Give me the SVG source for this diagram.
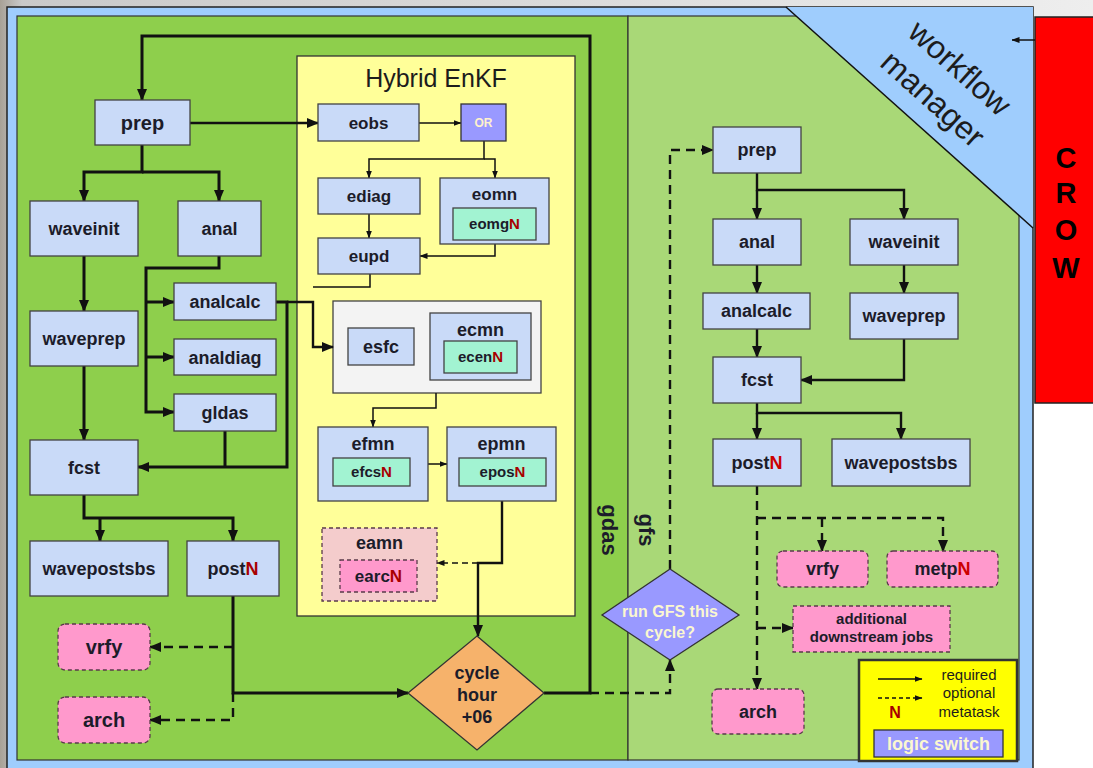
<svg xmlns="http://www.w3.org/2000/svg" width="1093" height="768" viewBox="0 0 1093 768">
<defs>
  <linearGradient id="bgGrad" x1="0" y1="0" x2="1" y2="0">
    <stop offset="0" stop-color="#a8a196"/>
    <stop offset="0.02" stop-color="#c9c9c9"/>
    <stop offset="0.5" stop-color="#dadada"/>
    <stop offset="1" stop-color="#eeeeee"/>
  </linearGradient>
  <marker id="ah" viewBox="0 0 12 10" refX="11" refY="5" markerWidth="12" markerHeight="10" markerUnits="userSpaceOnUse" orient="auto">
    <path d="M0,0 L12,5 L0,10 z" fill="#111"/>
  </marker>
  <marker id="ahs" viewBox="0 0 8 6" refX="7.5" refY="3" markerWidth="8" markerHeight="6" markerUnits="userSpaceOnUse" orient="auto">
    <path d="M0,0 L8,3 L0,6 z" fill="#111"/>
  </marker>
  <style>
    .t{font-family:"Liberation Sans",Arial,sans-serif;font-weight:bold;fill:#1c1c2a;text-anchor:middle}
    .r{font-family:"Liberation Sans",Arial,sans-serif;font-weight:normal;fill:#1c1c1c;text-anchor:middle}
    .n{fill:#a80000}
    .task{fill:#c9daf8;stroke:#434343;stroke-width:1.3}
    .meta{fill:#a2f3d2;stroke:#434343;stroke-width:1.3}
    .opt{fill:#ff99cc;stroke:#5a3a4a;stroke-width:1.3;stroke-dasharray:4 3}
    .optg{fill:#f4cccc;stroke:#5a3a4a;stroke-width:1.3;stroke-dasharray:4 3}
    .sw{fill:#9999ff;stroke:#333;stroke-width:1.3}
    .c3{fill:none;stroke:#111;stroke-width:3}
    .c2{fill:none;stroke:#111;stroke-width:2.4}
    .c1{fill:none;stroke:#111;stroke-width:1.5}
    .d{stroke-dasharray:9 6}
  </style>
</defs>

<!-- backdrop -->
<rect x="0" y="0" width="1093" height="768" fill="url(#bgGrad)"/>
<rect x="1033" y="403" width="60" height="365" fill="#ffffff"/>

<!-- workflow frame -->
<rect x="7" y="7" width="1026" height="775" fill="#9fcdfd" stroke="#222" stroke-width="1.5"/>
<rect x="17" y="16" width="611" height="744" fill="#8ecf4c" stroke="#333" stroke-width="1.2"/>
<rect x="628" y="16" width="391" height="744" fill="#a9d877" stroke="#333" stroke-width="1.2"/>

<!-- workflow manager corner -->
<g id="workflow-manager">
  <polygon points="786,7 1033,7 1033,228" fill="#9fcdfd"/>
  <line x1="786" y1="7" x2="1033" y2="228" stroke="#111" stroke-width="1.5"/>
  <text class="r" font-size="32" fill="#222" transform="translate(960,68) rotate(41.8)" dy="11">workflow</text>
  <text class="r" font-size="32" fill="#222" transform="translate(933,99) rotate(41.8)" dy="11">manager</text>
</g>

<!-- CROW -->
<g id="crow">
  <rect x="1035" y="17" width="70" height="386" fill="#ff0000" stroke="#222" stroke-width="1.5"/>
  <text class="t" font-size="29" fill="#000" x="1066" y="168" style="fill:#000">C</text>
  <text class="t" font-size="29" x="1066" y="203" style="fill:#000">R</text>
  <text class="t" font-size="29" x="1066" y="240" style="fill:#000">O</text>
  <text class="t" font-size="29" x="1066" y="278" style="fill:#000">W</text>
</g>

<!-- panel labels -->
<text class="t" font-size="22" transform="translate(610,530) rotate(90)" dy="8">gdas</text>
<text class="t" font-size="22" transform="translate(647,530) rotate(90)" dy="8">gfs</text>

<!-- Hybrid EnKF container -->
<g id="hybrid-enkf">
  <rect x="297" y="56" width="278" height="560" fill="#ffff99" stroke="#333" stroke-width="1.3"/>
  <text class="r" font-size="25" x="436" y="87">Hybrid EnKF</text>
  <rect x="333" y="301" width="208" height="92" fill="#f3f3f3" stroke="#434343" stroke-width="1.3"/>
</g>

<!-- connectors -->
<g id="connectors">
  <!-- gdas -->
  <path class="c2" d="M190,123 H318" marker-end="url(#ah)"/>
  <path class="c3" d="M142,145 V172 H84 V201" marker-end="url(#ah)"/>
  <path class="c3" d="M142,172 H219 V201" marker-end="url(#ah)"/>
  <path class="c3" d="M84,256 V311" marker-end="url(#ah)"/>
  <path class="c3" d="M84,366 V440" marker-end="url(#ah)"/>
  <path class="c3" d="M219,256 V268 H146 V412 H174" marker-end="url(#ah)"/>
  <path class="c3" d="M146,302 H174" marker-end="url(#ah)"/>
  <path class="c3" d="M146,357 H174" marker-end="url(#ah)"/>
  <path class="c3" d="M276,302 H287 V467 H138" marker-end="url(#ah)"/>
  <path class="c3" d="M225,431 V467"/>
  <path class="c2" d="M287,302 H313 V347 H333" marker-end="url(#ah)"/>
  <path class="c3" d="M84,495 V518 H233 V541" marker-end="url(#ah)"/>
  <path class="c3" d="M100,518 V541" marker-end="url(#ah)"/>
  <path class="c3" d="M233,596 V693 H408" marker-end="url(#ah)"/>
  <path class="c2 d" d="M233,647 H150" marker-end="url(#ah)"/>
  <path class="c2 d" d="M233,693 V720 H150" marker-end="url(#ah)"/>
  <path class="c3" d="M544,693 H590 V36 H142 V100" marker-end="url(#ah)"/>
  <path class="c2 d" d="M590,693 H670 V660" marker-end="url(#ah)"/>
  <path class="c2 d" d="M670,569 V150 H713" marker-end="url(#ah)"/>
  <!-- enkf -->
  <path class="c1" d="M419,123 H461" marker-end="url(#ahs)"/>
  <path class="c1" d="M484,141 V159 H369 V178" marker-end="url(#ahs)"/>
  <path class="c1" d="M484,159 H495 V178" marker-end="url(#ahs)"/>
  <path class="c1" d="M369,214 V238" marker-end="url(#ahs)"/>
  <path class="c1" d="M495,244 V256 H420" marker-end="url(#ahs)"/>
  <path class="c1" d="M370,274 V287 H313"/>
  <path class="c1" d="M436,393 V408 H373 V427" marker-end="url(#ahs)"/>
  <path class="c1" d="M428,464 H447" marker-end="url(#ahs)"/>
  <path class="c2" d="M502,501 V563 H478 V636" marker-end="url(#ah)"/>
  <path class="c1 d" d="M478,563 H437" style="stroke-dasharray:6 4" marker-end="url(#ahs)"/>
  <!-- gfs -->
  <path class="c2" d="M757,173 V190 H904 V219" marker-end="url(#ah)"/>
  <path class="c2" d="M757,190 V219" marker-end="url(#ah)"/>
  <path class="c2" d="M757,265 V293" marker-end="url(#ah)"/>
  <path class="c2" d="M757,329 V357" marker-end="url(#ah)"/>
  <path class="c2" d="M904,265 V293" marker-end="url(#ah)"/>
  <path class="c2" d="M904,339 V380 H801" marker-end="url(#ah)"/>
  <path class="c2" d="M757,403 V413 H901 V439" marker-end="url(#ah)"/>
  <path class="c2" d="M757,413 V439" marker-end="url(#ah)"/>
  <path class="c2 d" d="M757,486 V689" marker-end="url(#ah)"/>
  <path class="c2 d" d="M757,518 H943 V551" marker-end="url(#ah)"/>
  <path class="c2 d" d="M822,518 V551" marker-end="url(#ah)"/>
  <path class="c2 d" d="M757,628 H793" marker-end="url(#ah)"/>
  <!-- crow to manager -->
  <path class="c1" d="M1035,40 H1012" marker-end="url(#ahs)"/>
</g>

<!-- gdas tasks -->
<g id="gdas-prep"><rect class="task" x="95" y="100" width="95" height="45"/><text class="t" font-size="20" x="142.5" y="129.5">prep</text></g>
<g id="gdas-waveinit"><rect class="task" x="30" y="201" width="108" height="55"/><text class="t" font-size="18" x="84" y="235">waveinit</text></g>
<g id="gdas-anal"><rect class="task" x="178" y="201" width="83" height="55"/><text class="t" font-size="18" x="219.5" y="235">anal</text></g>
<g id="gdas-analcalc"><rect class="task" x="174" y="283" width="102" height="37"/><text class="t" font-size="18" x="225" y="308">analcalc</text></g>
<g id="gdas-analdiag"><rect class="task" x="174" y="339" width="102" height="36"/><text class="t" font-size="18" x="225" y="363.5">analdiag</text></g>
<g id="gdas-gldas"><rect class="task" x="174" y="394" width="102" height="37"/><text class="t" font-size="18" x="225" y="419">gldas</text></g>
<g id="gdas-waveprep"><rect class="task" x="30" y="311" width="108" height="55"/><text class="t" font-size="18" x="84" y="345">waveprep</text></g>
<g id="gdas-fcst"><rect class="task" x="30" y="440" width="108" height="55"/><text class="t" font-size="18" x="84" y="474">fcst</text></g>
<g id="gdas-wavepostsbs"><rect class="task" x="30" y="541" width="138" height="55"/><text class="t" font-size="18" x="99" y="575">wavepostsbs</text></g>
<g id="gdas-post"><rect class="task" x="187" y="541" width="92" height="55"/><text class="t" font-size="18" x="233" y="575">post<tspan class="n">N</tspan></text></g>
<g id="gdas-vrfy"><rect class="opt" x="58" y="624" width="92" height="46" rx="7"/><text class="t" font-size="20" x="104" y="654">vrfy</text></g>
<g id="gdas-arch"><rect class="opt" x="58" y="697" width="92" height="46" rx="7"/><text class="t" font-size="20" x="104" y="727">arch</text></g>

<!-- EnKF tasks -->
<g id="eobs"><rect class="task" x="318" y="104" width="101" height="37"/><text class="t" font-size="17" x="368.5" y="128.5">eobs</text></g>
<g id="or-switch"><rect class="sw" x="461" y="104" width="45" height="37"/><text class="t" font-size="12" x="483.5" y="127" style="fill:#fff2cc">OR</text></g>
<g id="ediag"><rect class="task" x="318" y="178" width="102" height="36"/><text class="t" font-size="17" x="369" y="202">ediag</text></g>
<g id="eomn"><rect class="task" x="440" y="178" width="109" height="66"/><text class="t" font-size="17" x="494.5" y="200">eomn</text>
  <rect class="meta" x="453" y="208" width="83" height="32"/><text class="t" font-size="15" x="494.5" y="229">eomg<tspan class="n">N</tspan></text></g>
<g id="eupd"><rect class="task" x="318" y="238" width="102" height="36"/><text class="t" font-size="17" x="369" y="262">eupd</text></g>
<g id="esfc"><rect class="task" x="348" y="328" width="66" height="37"/><text class="t" font-size="18" x="381" y="353">esfc</text></g>
<g id="ecmn"><rect class="task" x="430" y="313" width="101" height="67"/><text class="t" font-size="18" x="480.5" y="336">ecmn</text>
  <rect class="meta" x="444" y="341" width="73" height="32"/><text class="t" font-size="15" x="480.5" y="362">ecen<tspan class="n">N</tspan></text></g>
<g id="efmn"><rect class="task" x="318" y="427" width="110" height="74"/><text class="t" font-size="18" x="373" y="450">efmn</text>
  <rect class="meta" x="333" y="458" width="77" height="28"/><text class="t" font-size="15" x="371.5" y="477">efcs<tspan class="n">N</tspan></text></g>
<g id="epmn"><rect class="task" x="447" y="427" width="109" height="74"/><text class="t" font-size="18" x="501.5" y="450">epmn</text>
  <rect class="meta" x="459" y="458" width="87" height="28"/><text class="t" font-size="15" x="502.5" y="477">epos<tspan class="n">N</tspan></text></g>
<g id="eamn"><rect class="optg" x="322" y="528" width="115" height="73"/><text class="t" font-size="18" x="379.5" y="549">eamn</text>
  <rect class="opt" x="340" y="560" width="77" height="32"/><text class="t" font-size="17" x="378.5" y="582">earc<tspan class="n">N</tspan></text></g>

<!-- cycle hour switch -->
<g id="cycle-hour">
  <polygon points="477,636 544,693 477,750 408,693" fill="#f6b26b" stroke="#333" stroke-width="1.3"/>
  <text class="t" font-size="18" x="477" y="679">cycle</text>
  <text class="t" font-size="18" x="477" y="701">hour</text>
  <text class="t" font-size="18" x="477" y="723">+06</text>
</g>

<!-- run GFS switch -->
<g id="run-gfs">
  <polygon points="670,569 739,615 670,660 602,615" fill="#9999ff" stroke="#333" stroke-width="1.3"/>
  <text class="t" font-size="16" x="670" y="617" style="fill:#fbf7d0">run GFS this</text>
  <text class="t" font-size="16" x="670" y="638" style="fill:#fbf7d0">cycle?</text>
</g>

<!-- gfs tasks -->
<g id="gfs-prep"><rect class="task" x="713" y="127" width="88" height="46"/><text class="t" font-size="18" x="757" y="156">prep</text></g>
<g id="gfs-anal"><rect class="task" x="713" y="219" width="88" height="46"/><text class="t" font-size="18" x="757" y="248">anal</text></g>
<g id="gfs-waveinit"><rect class="task" x="850" y="219" width="108" height="46"/><text class="t" font-size="18" x="904" y="248">waveinit</text></g>
<g id="gfs-analcalc"><rect class="task" x="703" y="293" width="107" height="36"/><text class="t" font-size="18" x="756.5" y="317">analcalc</text></g>
<g id="gfs-waveprep"><rect class="task" x="850" y="293" width="108" height="46"/><text class="t" font-size="18" x="904" y="322">waveprep</text></g>
<g id="gfs-fcst"><rect class="task" x="713" y="357" width="88" height="46"/><text class="t" font-size="18" x="757" y="386">fcst</text></g>
<g id="gfs-post"><rect class="task" x="713" y="439" width="88" height="47"/><text class="t" font-size="18" x="757" y="469">post<tspan class="n" style="fill:#cc0000">N</tspan></text></g>
<g id="gfs-wavepostsbs"><rect class="task" x="832" y="439" width="138" height="47"/><text class="t" font-size="18" x="901" y="469">wavepostsbs</text></g>
<g id="gfs-vrfy"><rect class="opt" x="777" y="551" width="91" height="36" rx="6"/><text class="t" font-size="18" x="822.5" y="575">vrfy</text></g>
<g id="gfs-metp"><rect class="opt" x="887" y="551" width="111" height="36" rx="6"/><text class="t" font-size="18" x="942.5" y="575">metp<tspan class="n" style="fill:#cc0000">N</tspan></text></g>
<g id="gfs-downstream"><rect class="opt" x="793" y="606" width="157" height="46"/>
  <text class="t" font-size="15" x="871.5" y="624">additional</text>
  <text class="t" font-size="15" x="871.5" y="642">downstream jobs</text></g>
<g id="gfs-arch"><rect class="opt" x="712" y="689" width="92" height="45" rx="6"/><text class="t" font-size="18" x="758" y="718">arch</text></g>

<!-- legend -->
<g id="legend">
  <rect x="859" y="660" width="158" height="101" fill="#ffff00" stroke="#333" stroke-width="2.5"/>
  <path d="M878,679 H922" stroke="#111" stroke-width="1.3" fill="none" marker-end="url(#ahs)"/>
  <path d="M878,698 H922" stroke="#111" stroke-width="1.3" stroke-dasharray="4 3" fill="none" marker-end="url(#ahs)"/>
  <text class="t" font-size="16" x="895" y="718" style="fill:#a80000">N</text>
  <text class="r" font-size="15" x="969" y="680">required</text>
  <text class="r" font-size="15" x="969" y="698">optional</text>
  <text class="r" font-size="15" x="969" y="717">metatask</text>
  <rect class="sw" x="874" y="730" width="129" height="27"/>
  <text class="t" font-size="18" x="938.5" y="750" style="fill:#fbf7d0">logic switch</text>
</g>
</svg>
